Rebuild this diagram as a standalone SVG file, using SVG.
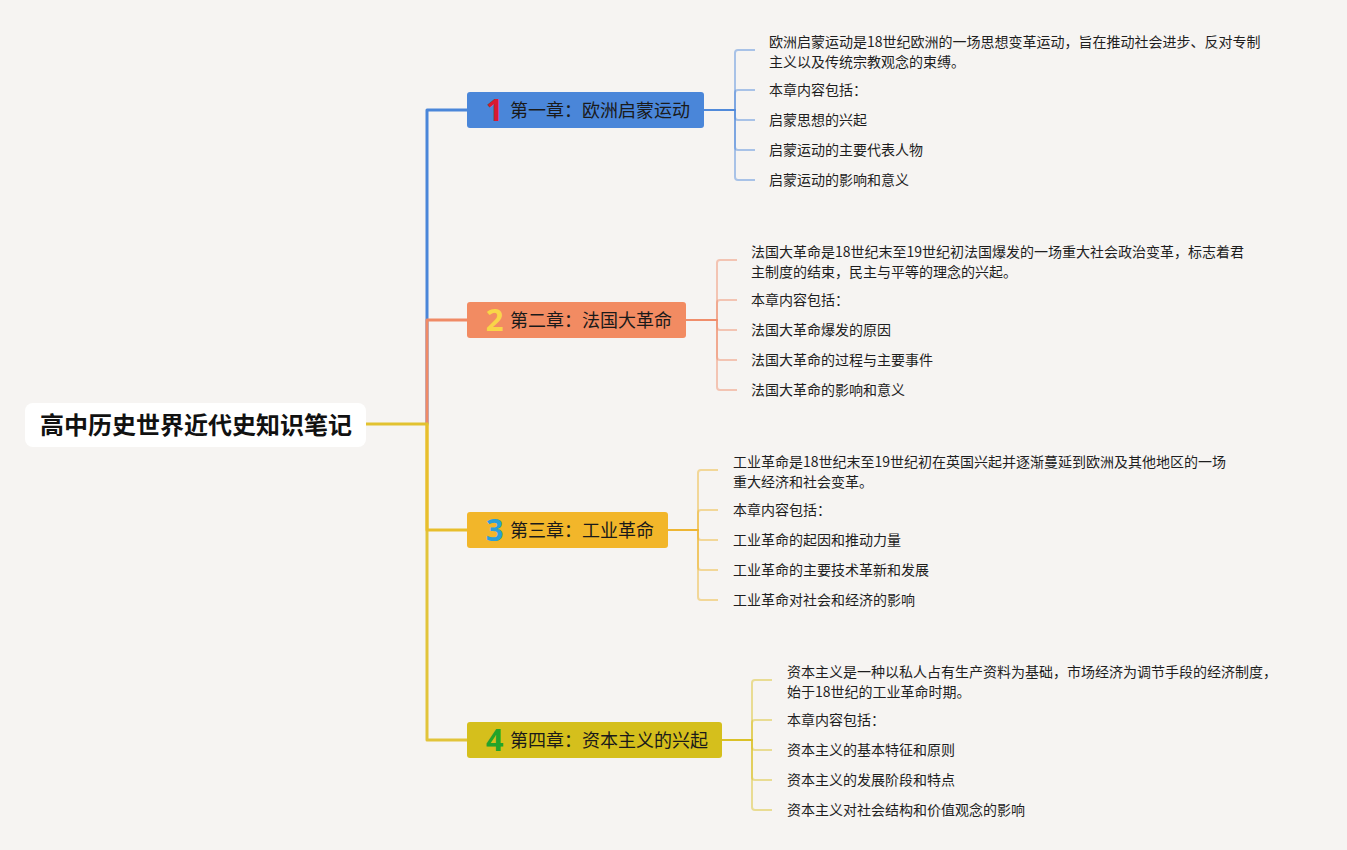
<svg xmlns="http://www.w3.org/2000/svg" width="1347" height="850" viewBox="0 0 1347 850">
<style>
.bg{fill:#F6F4F2}
.main{fill:none;stroke-width:3;stroke-linejoin:round}
.leafc{fill:none;stroke-width:2;stroke-opacity:0.45;stroke-linejoin:round}
.root-t{font-family:"Noto Sans CJK SC","Noto Sans",sans-serif;font-size:24px;font-weight:bold;fill:#111}
.ch-t{font-family:"Noto Sans CJK SC","Noto Sans",sans-serif;font-size:18px;fill:#1a1a1a}
.num{font-family:"Open Sans","DejaVu Sans",sans-serif;font-size:31px;font-weight:bold}
.leaf{font-family:"Noto Sans CJK SC","Noto Sans",sans-serif;font-size:14px;fill:#1e1e1e}
</style>
<rect class="bg" x="0" y="0" width="1347" height="850"/>
<g id="connectors">
  <path class="main" stroke="#4A86D9" d="M427,424 V110 H467"/>
  <path class="main" stroke="#F08A66" d="M427,424 V320 H467"/>
  <path class="main" stroke="#E2C43A" d="M427,424 V740 H467"/>
  <path class="main" stroke="#E8BE2C" d="M427,424 V530 H467"/>
  <path class="main" stroke="#E2C230" d="M366,424 H428.5"/>
  <g stroke="#4A86D9">
    <path class="leafc" d="M704,110 H735 V53 Q735,50 738,50 H755"/>
    <path class="leafc" d="M704,110 H735 V93 Q735,90 738,90 H755"/>
    <path class="leafc" d="M704,110 H735 V117 Q735,120 738,120 H755"/>
    <path class="leafc" d="M704,110 H735 V147 Q735,150 738,150 H755"/>
    <path class="leafc" d="M704,110 H735 V177 Q735,180 738,180 H755"/>
  </g>
  <g stroke="#F08A66">
    <path class="leafc" d="M686,320 H717 V263 Q717,260 720,260 H737"/>
    <path class="leafc" d="M686,320 H717 V303 Q717,300 720,300 H737"/>
    <path class="leafc" d="M686,320 H717 V327 Q717,330 720,330 H737"/>
    <path class="leafc" d="M686,320 H717 V357 Q717,360 720,360 H737"/>
    <path class="leafc" d="M686,320 H717 V387 Q717,390 720,390 H737"/>
  </g>
  <g stroke="#EDB42A">
    <path class="leafc" d="M668,530 H698 V473 Q698,470 701,470 H718"/>
    <path class="leafc" d="M668,530 H698 V513 Q698,510 701,510 H718"/>
    <path class="leafc" d="M668,530 H698 V537 Q698,540 701,540 H718"/>
    <path class="leafc" d="M668,530 H698 V567 Q698,570 701,570 H718"/>
    <path class="leafc" d="M668,530 H698 V597 Q698,600 701,600 H718"/>
  </g>
  <g stroke="#D9BE1E">
    <path class="leafc" d="M722,740 H752 V683 Q752,680 755,680 H772"/>
    <path class="leafc" d="M722,740 H752 V723 Q752,720 755,720 H772"/>
    <path class="leafc" d="M722,740 H752 V747 Q752,750 755,750 H772"/>
    <path class="leafc" d="M722,740 H752 V777 Q752,780 755,780 H772"/>
    <path class="leafc" d="M722,740 H752 V807 Q752,810 755,810 H772"/>
  </g>
</g>
<g id="root">
  <rect x="25" y="403" width="341" height="44" rx="8" fill="#FFFFFF"/>
  <text class="root-t" x="196" y="434" text-anchor="middle">高中历史世界近代史知识笔记</text>
</g>
<g id="ch1">
  <rect x="467" y="92" width="237" height="36" rx="3" fill="#4A86D9"/>
  <text class="num" x="494.5" y="121" text-anchor="middle" fill="#D81A30">1</text>
  <text class="ch-t" x="510" y="117">第一章：欧洲启蒙运动</text>
</g>
<g id="ch2">
  <rect x="467" y="302" width="219" height="36" rx="3" fill="#F28B62"/>
  <text class="num" x="494.5" y="331" text-anchor="middle" fill="#F9D548">2</text>
  <text class="ch-t" x="510" y="327">第二章：法国大革命</text>
</g>
<g id="ch3">
  <rect x="467" y="512" width="201" height="36" rx="3" fill="#F2B62A"/>
  <text class="num" x="494.5" y="541" text-anchor="middle" fill="#2A9FD8">3</text>
  <text class="ch-t" x="510" y="537">第三章：工业革命</text>
</g>
<g id="ch4">
  <rect x="467" y="722" width="255" height="36" rx="3" fill="#D5BF1C"/>
  <text class="num" x="494.5" y="751" text-anchor="middle" fill="#22A42A">4</text>
  <text class="ch-t" x="510" y="747">第四章：资本主义的兴起</text>
</g>
<g id="ch1-leaves">
  <text class="leaf" x="769" y="47">欧洲启蒙运动是18世纪欧洲的一场思想变革运动，旨在推动社会进步、反对专制</text>
  <text class="leaf" x="769" y="67">主义以及传统宗教观念的束缚。</text>
  <text class="leaf" x="769" y="95">本章内容包括：</text>
  <text class="leaf" x="769" y="125">启蒙思想的兴起</text>
  <text class="leaf" x="769" y="155">启蒙运动的主要代表人物</text>
  <text class="leaf" x="769" y="185">启蒙运动的影响和意义</text>
</g>
<g id="ch2-leaves">
  <text class="leaf" x="751" y="257">法国大革命是18世纪末至19世纪初法国爆发的一场重大社会政治变革，标志着君</text>
  <text class="leaf" x="751" y="277">主制度的结束，民主与平等的理念的兴起。</text>
  <text class="leaf" x="751" y="305">本章内容包括：</text>
  <text class="leaf" x="751" y="335">法国大革命爆发的原因</text>
  <text class="leaf" x="751" y="365">法国大革命的过程与主要事件</text>
  <text class="leaf" x="751" y="395">法国大革命的影响和意义</text>
</g>
<g id="ch3-leaves">
  <text class="leaf" x="733" y="467">工业革命是18世纪末至19世纪初在英国兴起并逐渐蔓延到欧洲及其他地区的一场</text>
  <text class="leaf" x="733" y="487">重大经济和社会变革。</text>
  <text class="leaf" x="733" y="515">本章内容包括：</text>
  <text class="leaf" x="733" y="545">工业革命的起因和推动力量</text>
  <text class="leaf" x="733" y="575">工业革命的主要技术革新和发展</text>
  <text class="leaf" x="733" y="605">工业革命对社会和经济的影响</text>
</g>
<g id="ch4-leaves">
  <text class="leaf" x="787" y="677">资本主义是一种以私人占有生产资料为基础，市场经济为调节手段的经济制度，</text>
  <text class="leaf" x="787" y="697">始于18世纪的工业革命时期。</text>
  <text class="leaf" x="787" y="725">本章内容包括：</text>
  <text class="leaf" x="787" y="755">资本主义的基本特征和原则</text>
  <text class="leaf" x="787" y="785">资本主义的发展阶段和特点</text>
  <text class="leaf" x="787" y="815">资本主义对社会结构和价值观念的影响</text>
</g>
</svg>
